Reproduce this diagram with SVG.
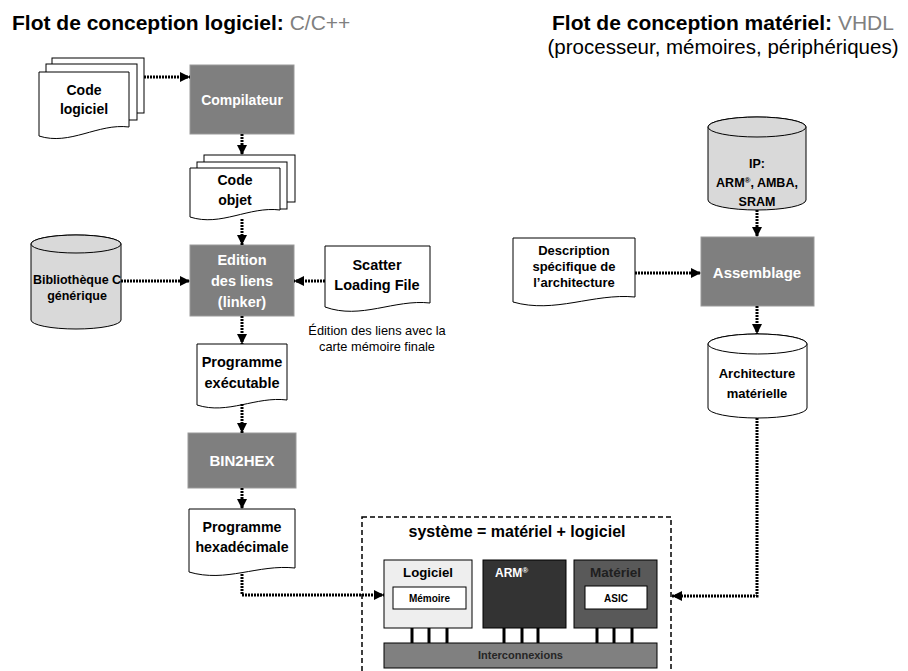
<svg xmlns="http://www.w3.org/2000/svg" width="908" height="671" viewBox="0 0 908 671">
<defs>
<marker id="ah" viewBox="0 0 10 10" refX="10" refY="5" markerWidth="10" markerHeight="10" orient="auto" markerUnits="userSpaceOnUse"><path d="M0,0 L10,5 L0,10 Z" fill="#000"/></marker>
<style>
text{font-family:"Liberation Sans",Arial,sans-serif;}
.b{font-weight:bold;}
.c{text-anchor:middle;}
.doc{fill:#fff;stroke:#000;stroke-width:1;}
.proc{fill:#7f7f7f;stroke:#9a9a9a;stroke-width:1;}
.cyl{stroke:#000;stroke-width:1;}
.pt{fill:#fff;font-weight:bold;text-anchor:middle;}
.con{fill:none;stroke:#000;stroke-width:3;stroke-dasharray:2 1;marker-end:url(#ah);}
.stub{stroke:#000;stroke-width:3;}
</style>
</defs>

<g id="titles">
<text x="12" y="30" font-size="21" class="b">Flot de conception logiciel: <tspan font-weight="normal" fill="#808080">C/C++</tspan></text>
<text x="723" y="30" font-size="21" class="b c">Flot de conception matériel: <tspan font-weight="normal" fill="#808080">VHDL</tspan></text>
<text x="723" y="54" font-size="20.5" class="c">(processeur, mémoires, périphériques)</text>
</g>

<g id="code-logiciel">
<rect x="52" y="58" width="92" height="55" class="doc"/>
<rect x="46" y="64" width="91" height="56" class="doc"/>
<path d="M39,72 H129 V127 C98,123 70,146 39,136 Z" class="doc"/>
<text x="84" y="95" font-size="14" class="b c">Code</text>
<text x="84" y="114" font-size="14" class="b c">logiciel</text>
</g>

<g id="compilateur">
<rect x="190" y="65" width="104" height="69" class="proc"/>
<text x="242" y="105" font-size="14" class="pt">Compilateur</text>
</g>

<g id="code-objet">
<rect x="204" y="155" width="91" height="47" class="doc"/>
<rect x="197" y="162" width="90" height="47" class="doc"/>
<path d="M190,168 H280 V210 C249,206 221,227 190,217 Z" class="doc"/>
<text x="235" y="185" font-size="14" class="b c">Code</text>
<text x="235" y="205" font-size="14" class="b c">objet</text>
</g>

<g id="bibliotheque">
<path d="M31,244 V320 A45,9 0 0 0 121,320 V244 A45,9 0 0 0 31,244 Z" fill="#d9d9d9" class="cyl"/>
<ellipse cx="76" cy="244" rx="45" ry="9" fill="#d9d9d9" class="cyl"/>
<text x="77" y="284" font-size="12.5" class="b c">Bibliothèque C</text>
<text x="77" y="300" font-size="12.5" class="b c">générique</text>
</g>

<g id="edition">
<rect x="190" y="245" width="104" height="71" class="proc"/>
<text x="242" y="265" font-size="14.5" class="pt">Edition</text>
<text x="242" y="286" font-size="14.5" class="pt">des liens</text>
<text x="242" y="307" font-size="14.5" class="pt">(linker)</text>
</g>

<g id="scatter">
<path d="M325,246 H430 V303 C394,299 361,320 325,307 Z" class="doc"/>
<text x="377" y="270" font-size="14.5" class="b c">Scatter</text>
<text x="377" y="290" font-size="14.5" class="b c">Loading File</text>
<text x="377" y="335" font-size="12.8" class="c">Édition des liens avec la</text>
<text x="377" y="351" font-size="12.8" class="c">carte mémoire finale</text>
</g>

<g id="programme-executable">
<path d="M197,344 H287 V400 C256,396 228,415 197,405 Z" class="doc"/>
<text x="242" y="367" font-size="14.5" class="b c">Programme</text>
<text x="242" y="388" font-size="14.5" class="b c">exécutable</text>
</g>

<g id="bin2hex">
<rect x="188" y="433" width="108" height="55" class="proc"/>
<text x="242" y="466" font-size="15" class="pt">BIN2HEX</text>
</g>

<g id="programme-hex">
<path d="M189,509 H295 V568 C258,564 226,583 189,572 Z" class="doc"/>
<text x="242" y="532" font-size="14.2" class="b c">Programme</text>
<text x="242" y="552" font-size="14.2" class="b c">hexadécimale</text>
</g>

<g id="ip">
<path d="M708,127 V200 A49,10 0 0 0 806,200 V127 A49,10 0 0 0 708,127 Z" fill="#d9d9d9" class="cyl"/>
<ellipse cx="757" cy="127" rx="49" ry="10" fill="#d9d9d9" class="cyl"/>
<text x="757" y="168" font-size="12.5" class="b c">IP:</text>
<text x="757" y="187" font-size="12.5" class="b c">ARM<tspan font-size="8" dy="-4">®</tspan><tspan dy="4">, AMBA,</tspan></text>
<text x="757" y="206" font-size="12.5" class="b c">SRAM</text>
</g>

<g id="description">
<path d="M513,238 H635 V297 C593,293 555,314 513,302 Z" class="doc"/>
<text x="574" y="255" font-size="13" class="b c">Description</text>
<text x="574" y="271" font-size="13" class="b c">spécifique de</text>
<text x="574" y="287" font-size="13" class="b c">l’architecture</text>
</g>

<g id="assemblage">
<rect x="701" y="237" width="113" height="69" class="proc"/>
<text x="757" y="278" font-size="15" class="pt">Assemblage</text>
</g>

<g id="architecture">
<path d="M708,344 V408 A49.5,10 0 0 0 807,408 V344 A49.5,10 0 0 0 708,344 Z" fill="#fff" class="cyl"/>
<ellipse cx="757.5" cy="344" rx="49.5" ry="10" fill="#fff" class="cyl"/>
<text x="757" y="378" font-size="13" class="b c">Architecture</text>
<text x="757" y="398" font-size="13" class="b c">matérielle</text>
</g>

<g id="systeme">
<rect x="362" y="517" width="309" height="180" fill="none" stroke="#000" stroke-width="1.5" stroke-dasharray="5 3"/>
<text x="517" y="537" font-size="16" class="b c">système = matériel + logiciel</text>
</g>

<g id="logiciel">
<rect x="384" y="560" width="88" height="68" fill="#eeeeee" stroke="#000"/>
<text x="428" y="577" font-size="13.2" class="b c">Logiciel</text>
<rect x="393" y="587" width="73" height="22" fill="#fff" stroke="#000"/>
<text x="429.5" y="602" font-size="10" class="b c">Mémoire</text>
</g>

<g id="arm">
<rect x="483" y="560" width="83" height="68" fill="#333333" stroke="#000"/>
<text x="495" y="577" font-size="12" class="b" fill="#fff">ARM<tspan font-size="8" dy="-4">®</tspan></text>
</g>

<g id="materiel">
<rect x="574" y="560" width="83" height="68" fill="#595959" stroke="#000"/>
<text x="615.5" y="577" font-size="13.5" class="b c" fill="#1f1f1f">Matériel</text>
<rect x="585" y="586" width="62" height="23" fill="#fff" stroke="#000"/>
<text x="616" y="602" font-size="10" class="b c">ASIC</text>
</g>

<g id="interconnexions">
<line x1="412" y1="628" x2="412" y2="643" class="stub"/>
<line x1="429" y1="628" x2="429" y2="643" class="stub"/>
<line x1="447" y1="628" x2="447" y2="643" class="stub"/>
<line x1="504" y1="628" x2="504" y2="643" class="stub"/>
<line x1="522" y1="628" x2="522" y2="643" class="stub"/>
<line x1="538" y1="628" x2="538" y2="643" class="stub"/>
<line x1="597" y1="628" x2="597" y2="643" class="stub"/>
<line x1="614" y1="628" x2="614" y2="643" class="stub"/>
<line x1="632" y1="628" x2="632" y2="643" class="stub"/>
<rect x="384" y="643" width="273" height="25" fill="#808080" stroke="#000"/>
<text x="520.5" y="659" font-size="11" class="b c" fill="#262626">Interconnexions</text>
</g>

<g id="connectors">
<path d="M144,77 H190" class="con"/>
<path d="M242,134 V155" class="con"/>
<path d="M242,219 V245" class="con"/>
<path d="M121,281 H190" class="con"/>
<path d="M325,281 H294" class="con"/>
<path d="M242,316 V344" class="con"/>
<path d="M242,404 V433" class="con"/>
<path d="M242,488 V509" class="con"/>
<path d="M242,574 V595 H384" class="con"/>
<path d="M757,210 V237" class="con"/>
<path d="M635,273 H701" class="con"/>
<path d="M757,306 V334" class="con"/>
<path d="M757,418 V596 H672" class="con"/>
</g>
</svg>
